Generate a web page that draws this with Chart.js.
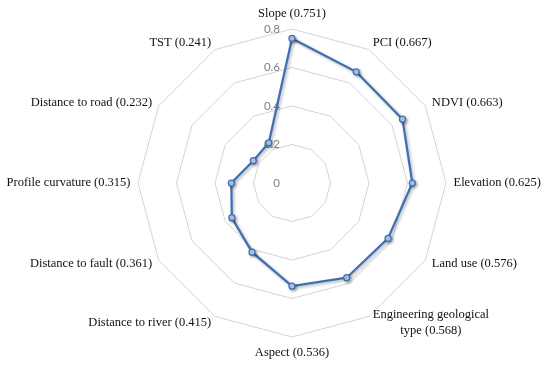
<!DOCTYPE html>
<html>
<head>
<meta charset="utf-8">
<script src="https://cdn.jsdelivr.net/npm/chart.js@4.4.1/dist/chart.umd.min.js"></script>
<style>
  html, body { margin: 0; padding: 0; background: #ffffff; }
  #wrap { width: 550px; height: 368px; position: relative; }
</style>
</head>
<body>
<div id="wrap"><canvas id="c"></canvas></div>
<script>
const categories = [
  'Slope (0.751)',
  'PCI (0.667)',
  'NDVI (0.663)',
  'Elevation (0.625)',
  'Land use (0.576)',
  ['Engineering geological', 'type (0.568)'],
  'Aspect (0.536)',
  'Distance to river (0.415)',
  'Distance to fault (0.361)',
  'Profile curvature (0.315)',
  'Distance to road (0.232)',
  'TST (0.241)'
];
const importance = [0.751, 0.667, 0.663, 0.625, 0.576, 0.568, 0.536, 0.415, 0.361, 0.315, 0.232, 0.241];
const tickValues = [0, 0.2, 0.4, 0.6, 0.8];
const tickLabels = ['0', '0.2', '0.4', '0.6', '0.8'];

const labelPlugin = {
  id: 'labelPlugin',
  beforeDatasetsDraw(chart) {
    const s = chart.scales.r;
    const ctx = chart.ctx;
    ctx.save();
    ctx.font = '11.5px Lato, "Liberation Sans", sans-serif';
    ctx.fillStyle = '#808080';
    ctx.textAlign = 'right';
    ctx.textBaseline = 'middle';
    tickValues.forEach((v, i) => {
      const d = s.getDistanceFromCenterForValue(v);
      ctx.fillText(tickLabels[i], s.xCenter - 12, s.yCenter - d);
    });
    ctx.restore();
    ctx.save();
    ctx.shadowColor = 'rgba(0,0,0,0.3)';
    ctx.shadowBlur = 3;
    ctx.shadowOffsetX = 1.5;
    ctx.shadowOffsetY = 1.5;
  },
  afterDatasetsDraw(chart) {
    const ctx = chart.ctx;
    ctx.restore();
    const s = chart.scales.r;
    const n = categories.length;
    ctx.save();
    ctx.font = '12.5px "Liberation Serif", serif';
    ctx.fillStyle = '#111111';
    ctx.textBaseline = 'middle';
    const lh = 16;
    categories.forEach((lab, i) => {
      const p = s.getPointPosition(i, s.drawingArea + 7.5);
      const lines = Array.isArray(lab) ? lab : [lab];
      const ang = (i * 360 / n) % 360;
      let y = p.y;
      if (ang === 0) y -= 8;
      if (ang === 180) y += 8;
      const widths = lines.map(t => ctx.measureText(t).width);
      const maxW = Math.max(...widths);
      let cx;
      if (ang === 0 || ang === 180) cx = p.x;
      else if (ang < 180) cx = p.x + maxW / 2;
      else cx = p.x - maxW / 2;
      ctx.textAlign = 'center';
      const y0 = y - (lines.length - 1) * lh / 2;
      lines.forEach((t, k) => ctx.fillText(t, cx, y0 + k * lh));
    });
    ctx.restore();
  }
};

new Chart(document.getElementById('c'), {
  type: 'radar',
  data: {
    labels: categories,
    datasets: [{
      data: importance,
      borderColor: '#3d6fb5',
      borderWidth: 2.25,
      backgroundColor: 'rgba(0,0,0,0)',
      fill: false,
      pointRadius: 3,
      pointBorderWidth: 1.25,
      pointBackgroundColor: '#bcd3f1',
      pointBorderColor: '#3d6fb5',
      tension: 0
    }]
  },
  options: {
    responsive: true,
    maintainAspectRatio: false,
    animation: false,
    layout: { padding: { left: 138, right: 104, top: 29, bottom: 31 } },
    plugins: { legend: { display: false }, tooltip: { enabled: false } },
    scales: {
      r: {
        min: 0,
        max: 0.8,
        ticks: { display: false, stepSize: 0.2 },
        grid: { display: true, circular: false, color: '#d4d4d4', lineWidth: 1 },
        angleLines: { display: false },
        pointLabels: { display: false }
      }
    }
  },
  plugins: [labelPlugin]
});
</script>
</body>
</html>
